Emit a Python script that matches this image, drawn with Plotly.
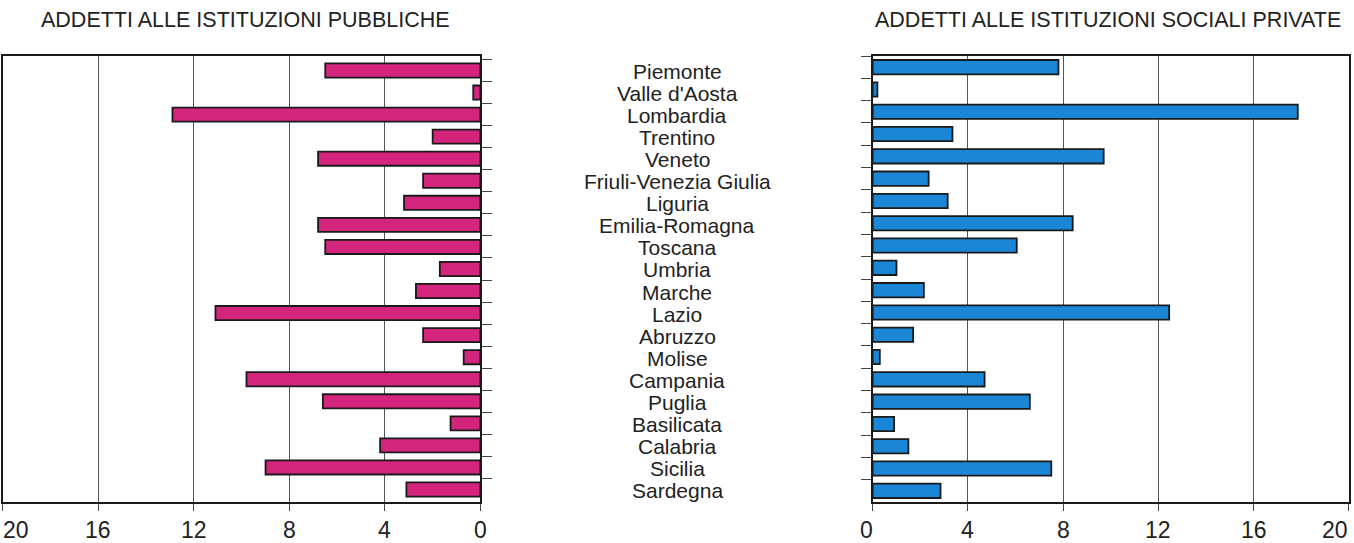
import plotly.graph_objects as go

regions = ["Piemonte", "Valle d'Aosta", "Lombardia", "Trentino", "Veneto",
           "Friuli-Venezia Giulia", "Liguria", "Emilia-Romagna", "Toscana", "Umbria",
           "Marche", "Lazio", "Abruzzo", "Molise", "Campania", "Puglia",
           "Basilicata", "Calabria", "Sicilia", "Sardegna"]

pubbliche = [6.5, 0.3, 12.9, 2.0, 6.8, 2.4, 3.2, 6.8, 6.5, 1.7,
             2.7, 11.1, 2.4, 0.7, 9.8, 6.6, 1.25, 4.2, 9.0, 3.1]

private = [7.8, 0.2, 17.85, 3.35, 9.7, 2.35, 3.15, 8.4, 6.05, 1.0,
           2.15, 12.45, 1.7, 0.3, 4.7, 6.6, 0.9, 1.5, 7.5, 2.85]

tick_vals = [0, 4, 8, 12, 16, 20]
tick_labels = ["0", "4", "8", "12", "16", "20"]

title_left = "ADDETTI ALLE ISTITUZIONI PUBBLICHE"
title_right = "ADDETTI ALLE ISTITUZIONI SOCIALI PRIVATE"

FONT = "Liberation Sans, Arial, sans-serif"
TXT = "#222222"
LINE = "#1a1a1a"

fig = go.Figure()
fig.add_trace(go.Bar(y=regions, x=pubbliche, orientation="h", xaxis="x", yaxis="y",
                     width=0.64, marker=dict(color="#D2257B", line=dict(color=LINE, width=1.8)),
                     showlegend=False))
fig.add_trace(go.Bar(y=regions, x=private, orientation="h", xaxis="x2", yaxis="y2",
                     width=0.64, marker=dict(color="#1C86D6", line=dict(color=LINE, width=1.8)),
                     showlegend=False))

common_x = dict(tickvals=tick_vals, showgrid=True, gridcolor="#555555", gridwidth=1,
                showline=True, linecolor=LINE, linewidth=1.6, mirror=True,
                ticks="outside", ticklen=7, tickcolor="#444444", zeroline=False,
                showticklabels=False, automargin=False)
common_y = dict(type="category", categoryarray=regions, categoryorder="array",
                autorange="reversed", showline=True, linecolor=LINE, linewidth=1.6,
                mirror=True, ticks="outside", ticklen=10, tickcolor="#444444",
                tickson="boundaries", showticklabels=False, showgrid=False, zeroline=False,
                automargin=False)

fig.update_layout(
    width=1354, height=543,
    margin=dict(l=0, r=0, t=56, b=41),
    paper_bgcolor="white", plot_bgcolor="white",
    bargap=0.35,
    xaxis=dict(domain=[0.0022, 0.3548], range=[20, 0], anchor="y", **common_x),
    yaxis=dict(anchor="x", side="right", **common_y),
    xaxis2=dict(domain=[0.6445, 0.9963], range=[0, 20], anchor="y2", **common_x),
    yaxis2=dict(anchor="x2", side="left", **common_y),
)

ann = []
for text, xc in [(title_left, 245), (title_right, 1108)]:
    ann.append(dict(text=text, x=xc / 1354, y=1 + (56 - 20) / 446,
                    xref="paper", yref="paper", showarrow=False, xanchor="center",
                    yanchor="middle", font=dict(family=FONT, size=21.5, color=TXT)))
for r in regions:
    ann.append(dict(text=r, x=0.5, y=r, xref="paper", yref="y", showarrow=False,
                    xanchor="center", yanchor="middle", yshift=-1,
                    font=dict(family=FONT, size=21, color=TXT)))
# x tick labels (edge labels nudged inward as in the original print)
for xref, edge_shift in [("x", 13), ("x2", -14)]:
    for v, t in zip(tick_vals, tick_labels):
        ann.append(dict(text=t, x=v, y=0, xref=xref, yref="paper", showarrow=False,
                        xanchor="center", yanchor="top", yshift=-13,
                        xshift=edge_shift if v == 20 else (-6 if (xref == "x2" and v == 0) else 0),
                        font=dict(family=FONT, size=23, color=TXT)))
fig.update_layout(annotations=ann)

fig.write_html("out.html", config={"displayModeBar": False},
               post_script="document.body.style.margin='0';document.body.style.overflow='hidden';")
